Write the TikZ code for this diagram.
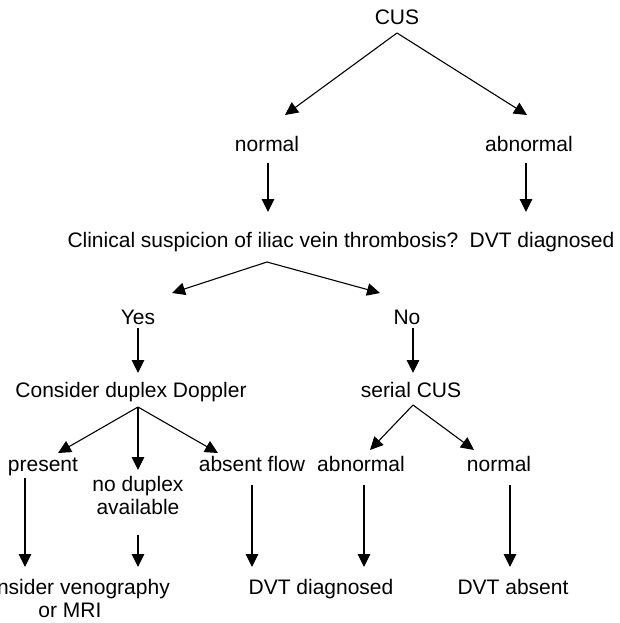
\documentclass[tikz,border=0pt]{standalone}
\usepackage{fontspec}
\setmainfont{Liberation Sans}
\usetikzlibrary{arrows.meta,calc}
\begin{document}
\begin{tikzpicture}[x=1pt,y=1pt,
  lbl/.style={inner sep=0pt,outer sep=0pt,font=\fontsize{21}{23}\selectfont,align=center},
  arr/.style={line width=1.1pt,-{Triangle[length=13pt,width=12.5pt]}}]
\useasboundingbox (0,0) rectangle (619,-623);
% nodes (base anchors at baseline)
\node[lbl,anchor=base] (cus)  at (397,-25)  {CUS};
\node[lbl,anchor=base] (nA)   at (267,-151) {normal};
\node[lbl,anchor=base] (abA)  at (529,-151) {abnormal};
\node[lbl,anchor=base] (clin) at (263,-247) {Clinical suspicion of iliac vein thrombosis?};
\node[lbl,anchor=base] (dvt1) at (542,-247) {DVT diagnosed};
\node[lbl,anchor=base] (yes)  at (138,-324) {Yes};
\node[lbl,anchor=base] (no)   at (407,-324) {No};
\node[lbl,anchor=base] (dop)  at (131,-397) {Consider duplex Doppler};
\node[lbl,anchor=base] (ser)  at (411,-397) {serial CUS};
\node[lbl,anchor=base] (pres) at (43,-471)  {present};
\node[lbl,anchor=north] (nodup) at (138,-476) {no duplex\\available};
\node[lbl,anchor=base] (absf) at (252,-471) {absent flow};
\node[lbl,anchor=base] (ab2)  at (361,-471) {abnormal};
\node[lbl,anchor=base] (n2)   at (499,-471) {normal};
\node[lbl,anchor=north] (ven) at (70,-579)  {Consider venography\\or MRI};
\node[lbl,anchor=base] (dvt2) at (321,-594) {DVT diagnosed};
\node[lbl,anchor=base] (dvt3) at (513,-594) {DVT absent};
% connectors
\draw[arr] ($(cus.base)+(0,-8)$) -- ($(nA.base)+(18,36)$);
\draw[arr] ($(cus.base)+(0,-8)$) -- ($(abA.base)+(-2,36)$);
\draw[arr] ($(nA.base)+(1,-12)$) -- ($(clin.base)+(5,35)$);
\draw[arr] ($(abA.base)+(-3,-12)$) -- ($(dvt1.base)+(-16,35)$);
\draw[arr] ($(clin.base)+(4,-15)$) -- ($(yes.base)+(34,31)$);
\draw[arr] ($(clin.base)+(4,-15)$) -- ($(no.base)+(-27,31)$);
\draw[arr] ($(yes.base)+(0,-4)$) -- ($(dop.base)+(7,24)$);
\draw[arr] ($(no.base)+(6,-4)$) -- ($(ser.base)+(2,24)$);
\draw[arr] ($(dop.base)+(7,-10)$) -- ($(pres.base)+(15,18)$);
\draw[arr] ($(dop.base)+(7,-10)$) -- ($(nodup.north)+(0,6)$);
\draw[arr] ($(dop.base)+(7,-10)$) -- ($(absf.base)+(-34,18)$);
\draw[arr] ($(ser.base)+(2,-8)$) -- ($(ab2.base)+(9,21)$);
\draw[arr] ($(ser.base)+(2,-8)$) -- ($(n2.base)+(-25,21)$);
\draw[arr] ($(pres.base)+(-18,-7)$) -- ($(ven.north)+(-45,12)$);
\draw[arr] ($(nodup.south)+(0,-21)$) -- ($(ven.north)+(68,12)$);
\draw[arr] ($(absf.base)+(0,-14)$) -- ($(dvt2.base)+(-69,27)$);
\draw[arr] ($(ab2.base)+(3,-14)$) -- ($(dvt2.base)+(43,27)$);
\draw[arr] ($(n2.base)+(11,-14)$) -- ($(dvt3.base)+(-3,27)$);
\end{tikzpicture}
\end{document}
